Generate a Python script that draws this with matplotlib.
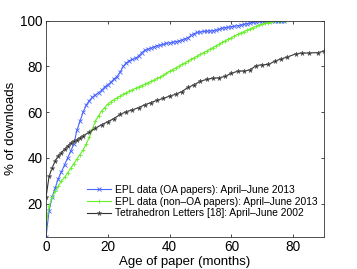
import matplotlib
matplotlib.use("Agg")
import matplotlib.pyplot as plt

plt.rcParams['font.family'] = ['Liberation Sans', 'DejaVu Sans']

# months since publication
oa_months = list(range(0, 78))
oa_pct = [5.5, 17, 23, 27, 31, 34, 37, 40, 43, 46,
          52, 56, 60, 63, 65, 66.5, 67.5, 68.5, 69.5, 71,
          72, 73, 74.5, 75.5, 77.5, 80, 81.5, 82.5, 83, 83.5,
          84.5, 86, 87, 87.5, 88, 88.5, 89, 89.3, 89.6, 90,
          90.2, 90.5, 90.8, 91, 91.5, 92, 92.5, 93.5, 94.3, 94.8,
          95, 95.2, 95.3, 95.4, 95.5, 95.8, 96.2, 96.6, 96.9, 97.1,
          97.3, 97.5, 97.7, 98, 98.3, 98.6, 98.9, 99.2, 99.4, 99.6,
          99.7, 99.8, 99.9, 99.9, 100, 100, 100, 100]

nonoa_months = list(range(0, 78))
nonoa_pct = [10.4, 19, 22.8, 25.6, 27.8, 30, 31.5, 33.5, 35.5, 37.5,
             39.5, 41.5, 43.5, 46, 49, 52.5, 56, 58.5, 60.5, 62,
             63.5, 64.5, 65.5, 66.3, 67, 67.8, 68.5, 69.2, 69.8, 70.4,
             71, 71.6, 72.2, 72.8, 73.4, 74, 74.7, 75.3, 76, 76.9,
             77.8, 78.6, 79.3, 80, 80.8, 81.5, 82.3, 83, 83.8, 84.5,
             85.2, 86, 86.7, 87.4, 88.2, 88.9, 89.6, 90.4, 91.1, 91.8,
             92.5, 93.2, 93.9, 94.5, 95.1, 95.7, 96.3, 96.9, 97.4, 97.9,
             98.3, 98.7, 99.1, 99.4, 99.6, 99.8, 99.9, 100]

tet_months = [0, 1, 2, 3, 4, 5, 6, 7, 8, 9, 10, 11, 12, 14, 16, 18, 20,
              22, 24, 26, 28, 30, 32, 34, 36, 38, 40, 42, 44, 46, 48, 50,
              52, 54, 56, 58, 60, 62, 64, 66, 68, 70, 72, 74, 76, 78, 81,
              83, 85, 88, 90]
tet_pct = [22.8, 32, 35.8, 38.7, 41, 42.3, 43.8, 45.2, 46.5, 47.4, 48,
           48.8, 49.6, 51.3, 53, 54.5, 55.8, 57.2, 59, 60.2, 61, 62,
           63.2, 64.2, 65.2, 66, 67, 67.8, 69, 70.8, 72, 73.5, 74.3,
           74.8, 75, 75.6, 77, 77.8, 78, 78.4, 80.3, 80.7, 80.8, 82.2,
           83.2, 84, 85.5, 85.8, 85.8, 86, 86.6]

labels = ["EPL data (OA papers): April\u2013June 2013",
          "EPL data (non\u2013OA papers): April\u2013June 2013",
          "Tetrahedron Letters [18]: April\u2013June 2002"]

fig = plt.figure(figsize=(3.57, 2.69), dpi=100)
ax = fig.add_axes([46 / 357, 1 - 237 / 269, (324 - 46) / 357, (237 - 20.5) / 269])

ax.plot(oa_months, oa_pct, color='#4a64ff', marker='x', markersize=3,
        linewidth=0.8, markeredgewidth=0.6, label=labels[0])
ax.plot(nonoa_months, nonoa_pct, color='#66f028', marker='+', markersize=3.5,
        linewidth=0.8, markeredgewidth=0.6, label=labels[1])
ax.plot(tet_months, tet_pct, color='#333333', marker='*', markersize=3.5,
        markerfacecolor='#222222', markeredgecolor='#666666',
        linewidth=0.8, markeredgewidth=0.5, label=labels[2])

ax.set_xlim(0, 90)
ax.set_ylim(5.5, 100)
ax.set_xticks([0, 20, 40, 60, 80])
ax.set_yticks([20, 40, 60, 80, 100])
ax.tick_params(direction='in', length=2.5, width=0.5, labelsize=9.8,
               top=True, right=True, pad=2.5)
for s in ax.spines.values():
    s.set_linewidth(0.6)
    s.set_color('#333333')

ax.set_xlabel("Age of paper (months)", fontsize=9.5, labelpad=1)
ax.set_ylabel("% of downloads", fontsize=9.5, labelpad=2)

ax.legend(loc='lower right', bbox_to_anchor=(1.0, 0.055), fontsize=7.4,
          frameon=False, handlelength=2.3, handletextpad=0.4,
          labelspacing=0.18, borderaxespad=0.25)

fig.savefig("out.png", dpi=100)
